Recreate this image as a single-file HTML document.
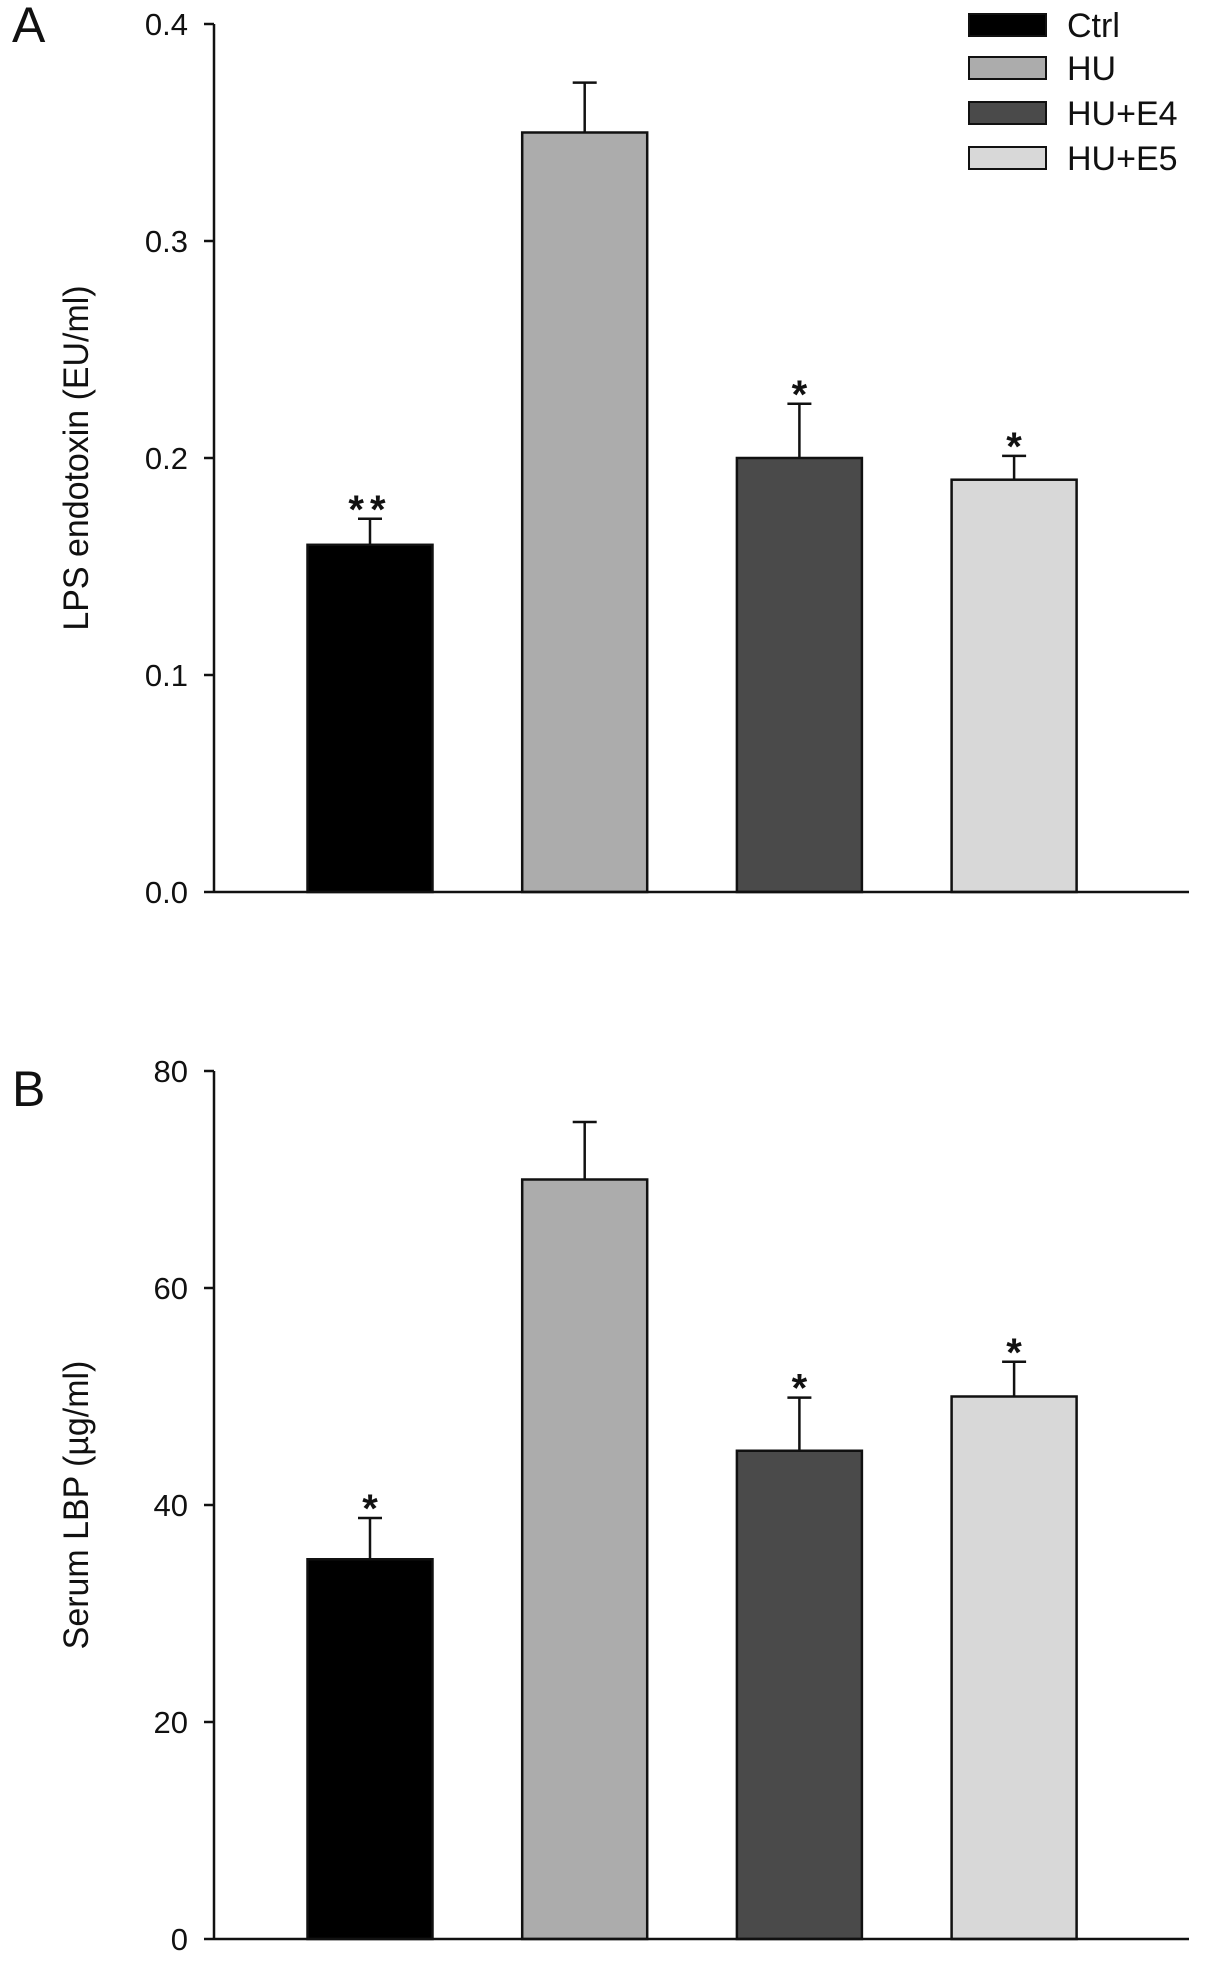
<!DOCTYPE html>
<html><head><meta charset="utf-8"><style>body{margin:0;background:#fff}svg{display:block}text{font-family:"Liberation Sans",sans-serif;fill:#111}</style></head>
<body>
<svg id="c" width="1205" height="1964"></svg>
<script>
const categories=["Ctrl","HU","HU+E4","HU+E5"];
const colors=["#000000","#acacac","#4a4a4a","#d8d8d8"];
const valuesA=[0.16,0.35,0.20,0.19];
const errorsA=[0.012,0.023,0.025,0.011];
const starsA=["**","","*","*"];
const ticksA=[0,0.1,0.2,0.3,0.4];
const tickLabelsA=["0.0","0.1","0.2","0.3","0.4"];
const valuesB=[35,70,45,50];
const errorsB=[3.8,5.3,4.9,3.2];
const starsB=["*","","*","*"];
const ticksB=[0,20,40,60,80];
const tickLabelsB=["0","20","40","60","80"];
const svg=document.getElementById('c');
const NS='http://www.w3.org/2000/svg';
function mk(tag,a,txt){const e=document.createElementNS(NS,tag);for(const k in a)e.setAttribute(k,a[k]);if(txt!==undefined)e.textContent=txt;svg.appendChild(e);return e;}
const axX=214,axR=1189,barW=125;
function xC(i){return 370+i*214.7;}
function panel(p,vals,errs,stars,ticks,labels,max,yTop,yBot,title,letter,letterY){
  const y=v=>yBot-(v/max)*(yBot-yTop);
  vals.forEach((v,i)=>{
    const cx=xC(i);
    let e=mk('line',{x1:cx,x2:cx,y1:y(v),y2:y(v+errs[i]),stroke:'#111','stroke-width':2.5});
    
    
    e=mk('line',{x1:cx-12,x2:cx+12,y1:y(v+errs[i]),y2:y(v+errs[i]),stroke:'#111','stroke-width':2.5});
    
    
    e=mk('rect',{x:cx-barW/2,y:y(v),width:barW,height:yBot-y(v),fill:colors[i],stroke:'#111','stroke-width':2.5});
    
    
    if(stars[i]){e=mk('text',{x:cx,y:y(v+errs[i])+4,'font-size':40,'font-weight':'bold','text-anchor':'middle','letter-spacing':stars[i].length>1?6:0},stars[i]);
    
    }
  });
  let e=mk('line',{x1:axX,x2:axX,y1:yTop,y2:yBot,stroke:'#111','stroke-width':2.5});
  
  
  e=mk('line',{x1:axX,x2:axR,y1:yBot,y2:yBot,stroke:'#111','stroke-width':2.5});
  
  
  ticks.forEach((t,i)=>{
    let e=mk('line',{x1:axX-10,x2:axX,y1:y(t),y2:y(t),stroke:'#111','stroke-width':2.5});
    
    
    e=mk('text',{x:188,y:y(t)+11,'font-size':31,'text-anchor':'end'},labels[i]);
    
    
  });
  const my=(yTop+yBot)/2;
  e=mk('text',{x:0,y:0,'font-size':35,'text-anchor':'middle',transform:`translate(88,${my}) rotate(-90) scale(0.97,1)`},title);
  
  
  e=mk('text',{x:12,y:letterY,'font-size':50},letter);
  
  
}
panel('a',valuesA,errorsA,starsA,ticksA,tickLabelsA,0.4,24,892,'LPS endotoxin (EU/ml)','A',42);
panel('b',valuesB,errorsB,starsB,ticksB,tickLabelsB,80,1071,1939,'Serum LBP (\u00b5g/ml)','B',1106);
const legY=[25,68,113,158];
categories.forEach((c,i)=>{
  let e=mk('rect',{x:969,y:legY[i]-11,width:77,height:22,fill:colors[i],stroke:'#111','stroke-width':2});
  
  
  e=mk('text',{x:1067,y:legY[i]+12,'font-size':34},c);
  
  
});
</script>
</body></html>
